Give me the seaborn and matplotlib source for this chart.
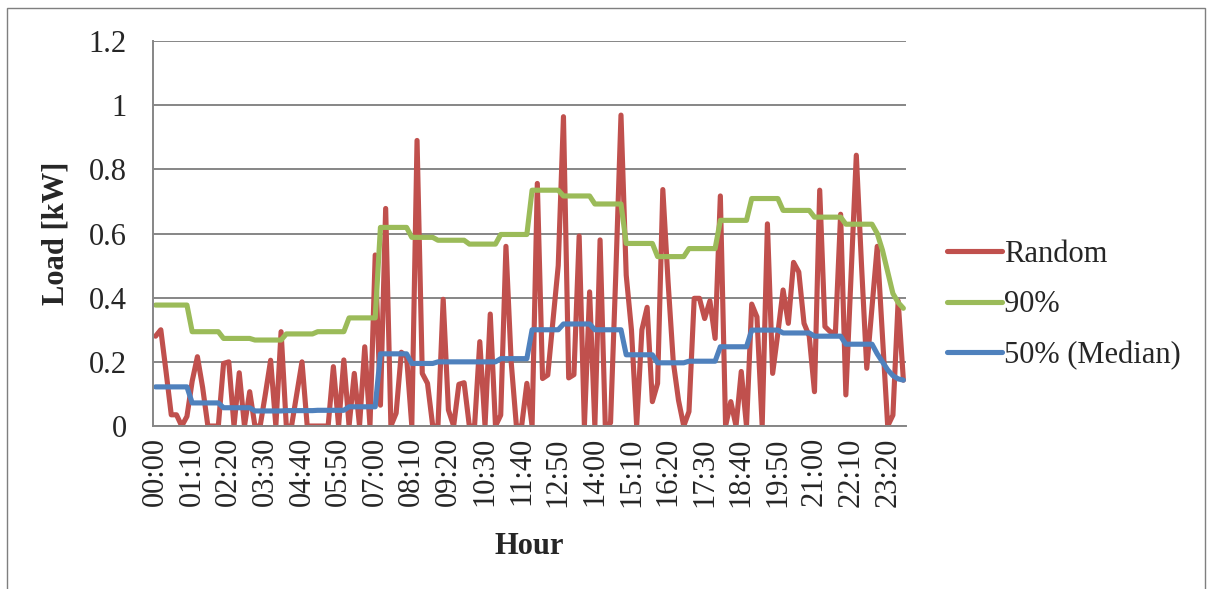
import pandas as pd
import matplotlib.pyplot as plt
import seaborn as sns
from matplotlib.patches import Rectangle
from matplotlib.ticker import FixedLocator

# 10-minute readings, 00:00 .. 23:50
times = [f"{h:02d}:{m:02d}" for h in range(24) for m in range(0, 60, 10)]
tick_labels = ["00:00", "01:10", "02:20", "03:30", "04:40", "05:50", "07:00",
               "08:10", "09:20", "10:30", "11:40", "12:50", "14:00", "15:10",
               "16:20", "17:30", "18:40", "19:50", "21:00", "22:10", "23:20"]

random_load = [
    0.28, 0.30, 0.17, 0.035, 0.035, 0.0, 0.03, 0.14, 0.216, 0.12, 0.0, 0.0,
    0.0, 0.195, 0.2, 0.0, 0.166, 0.0, 0.107, 0.0, 0.0, 0.1, 0.205, 0.0,
    0.294, 0.0, 0.0, 0.1, 0.2, 0.0, 0.0, 0.0, 0.0, 0.0, 0.185, 0.0,
    0.206, 0.0, 0.164, 0.0, 0.247, 0.0, 0.533, 0.065, 0.678, 0.0, 0.04, 0.23,
    0.216, 0.0, 0.89, 0.164, 0.133, 0.0, 0.0, 0.395, 0.05, 0.0, 0.13, 0.135,
    0.0, 0.0, 0.263, 0.0, 0.349, 0.0, 0.034, 0.56, 0.2, 0.0, 0.0, 0.133,
    0.0, 0.756, 0.148, 0.159, 0.33, 0.5, 0.964, 0.15, 0.16, 0.592, 0.0, 0.418,
    0.0, 0.58, 0.0, 0.01, 0.47, 0.969, 0.47, 0.3, 0.0, 0.3, 0.37, 0.076,
    0.133, 0.737, 0.45, 0.2, 0.08, 0.0, 0.045, 0.398, 0.398, 0.335, 0.39, 0.273,
    0.717, 0.0, 0.076, 0.0, 0.17, 0.0, 0.38, 0.34, 0.0, 0.63, 0.164, 0.29,
    0.424, 0.32, 0.51, 0.48, 0.32, 0.28, 0.107, 0.735, 0.31, 0.294, 0.29, 0.66,
    0.097, 0.47, 0.844, 0.5, 0.18, 0.37, 0.56, 0.28, 0.0, 0.034, 0.39, 0.143,
]

p90_load = [
    0.377, 0.377, 0.377, 0.377, 0.377, 0.377, 0.377, 0.294, 0.294, 0.294, 0.294, 0.294,
    0.294, 0.273, 0.273, 0.273, 0.273, 0.273, 0.273, 0.268, 0.268, 0.268, 0.268, 0.268,
    0.268, 0.287, 0.287, 0.287, 0.287, 0.287, 0.287, 0.294, 0.294, 0.294, 0.294, 0.294,
    0.294, 0.337, 0.337, 0.337, 0.337, 0.337, 0.337, 0.619, 0.619, 0.619, 0.619, 0.619,
    0.619, 0.588, 0.588, 0.588, 0.588, 0.588, 0.579, 0.579, 0.579, 0.579, 0.579, 0.579,
    0.567, 0.567, 0.567, 0.567, 0.567, 0.567, 0.597, 0.597, 0.597, 0.597, 0.597, 0.597,
    0.735, 0.735, 0.735, 0.735, 0.735, 0.735, 0.717, 0.717, 0.717, 0.717, 0.717, 0.717,
    0.692, 0.692, 0.692, 0.692, 0.692, 0.692, 0.569, 0.569, 0.569, 0.569, 0.569, 0.569,
    0.528, 0.528, 0.528, 0.528, 0.528, 0.528, 0.553, 0.553, 0.553, 0.553, 0.553, 0.553,
    0.641, 0.641, 0.641, 0.641, 0.641, 0.641, 0.709, 0.709, 0.709, 0.709, 0.709, 0.709,
    0.672, 0.672, 0.672, 0.672, 0.672, 0.672, 0.651, 0.651, 0.651, 0.651, 0.651, 0.651,
    0.629, 0.629, 0.629, 0.629, 0.629, 0.629, 0.60, 0.548, 0.48, 0.413, 0.385, 0.367,
]

median_load = [
    0.122, 0.122, 0.122, 0.122, 0.122, 0.122, 0.122, 0.072, 0.072, 0.072, 0.072, 0.072,
    0.072, 0.057, 0.057, 0.057, 0.057, 0.057, 0.057, 0.047, 0.047, 0.047, 0.047, 0.047,
    0.047, 0.048, 0.048, 0.048, 0.048, 0.048, 0.048, 0.049, 0.049, 0.049, 0.049, 0.049,
    0.049, 0.06, 0.06, 0.06, 0.06, 0.06, 0.06, 0.225, 0.225, 0.225, 0.225, 0.225,
    0.225, 0.195, 0.195, 0.195, 0.195, 0.195, 0.2, 0.2, 0.2, 0.2, 0.2, 0.2,
    0.2, 0.2, 0.2, 0.2, 0.2, 0.2, 0.21, 0.21, 0.21, 0.21, 0.21, 0.21,
    0.30, 0.30, 0.30, 0.30, 0.30, 0.30, 0.318, 0.318, 0.318, 0.318, 0.318, 0.318,
    0.30, 0.30, 0.30, 0.30, 0.30, 0.30, 0.222, 0.222, 0.222, 0.222, 0.222, 0.222,
    0.197, 0.197, 0.197, 0.197, 0.197, 0.197, 0.202, 0.202, 0.202, 0.202, 0.202, 0.202,
    0.247, 0.247, 0.247, 0.247, 0.247, 0.247, 0.299, 0.299, 0.299, 0.299, 0.299, 0.299,
    0.29, 0.29, 0.29, 0.29, 0.29, 0.29, 0.28, 0.28, 0.28, 0.28, 0.28, 0.28,
    0.255, 0.255, 0.255, 0.255, 0.255, 0.255, 0.225, 0.2, 0.175, 0.157, 0.147, 0.143,
]

df = pd.DataFrame({
    'Hour': times,
    'pos': range(len(times)),
    'Random': random_load,
    '90%': p90_load,
    '50% (Median)': median_load,
})

sns.set_style('white')
plt.rcParams['font.family'] = ['Liberation Serif', 'DejaVu Serif']

fig = plt.figure(figsize=(12.13, 5.89), dpi=100)
ax = fig.add_axes([0.1261, 0.2767, 0.6208, 0.6537])

colors = {'Random': '#C0504D', '90%': '#9BBB59', '50% (Median)': '#4F81BD'}
for name in ['Random', '90%', '50% (Median)']:
    sns.lineplot(x='pos', y=name, data=df, color=colors[name], linewidth=3.7,
                 label=name, ax=ax, solid_joinstyle='round', solid_capstyle='round')

grid_c = '#868686'
ax.set_xlim(-0.5, len(times) - 0.5)
ax.set_ylim(0, 1.2)
ax.set_yticks([0, 0.2, 0.4, 0.6, 0.8, 1.0, 1.2])
ax.set_yticklabels(['0', '0.2', '0.4', '0.6', '0.8', '1', '1.2'], fontsize=22)
ax.yaxis.grid(True, color=grid_c, linewidth=1.4)
ax.set_axisbelow(True)

label_pos = [times.index(t) for t in tick_labels]
ax.set_xticks(label_pos)
ax.set_xticklabels(tick_labels, rotation=90, fontsize=22)
ax.xaxis.set_minor_locator(FixedLocator([k - 0.5 for k in range(len(times) + 1)]))
ax.tick_params(axis='x', which='major', length=0, pad=8)
ax.tick_params(axis='x', which='minor', length=6, width=1.2, color=grid_c, direction='out')
ax.tick_params(axis='y', which='major', length=7, width=1.4, color=grid_c, direction='out', pad=12)

for side in ['top', 'right']:
    ax.spines[side].set_visible(False)
for side in ['left', 'bottom']:
    ax.spines[side].set_color(grid_c)
    ax.spines[side].set_linewidth(1.4)

ax.set_xlabel('Hour', fontsize=22, fontweight='bold', labelpad=18)
ax.set_ylabel('Load [kW]', fontsize=22, fontweight='bold', labelpad=13)

ax.legend(loc='center left', bbox_to_anchor=(0.771, 0.482), bbox_transform=fig.transFigure,
          frameon=False, fontsize=22, handlelength=1.8, handletextpad=0.06,
          labelspacing=0.7, borderaxespad=0)

fig.patches.append(Rectangle((7 / 1213, -0.05), 1198 / 1213, 1.05 - 8 / 589,
                             transform=fig.transFigure, fill=False,
                             edgecolor='#7f7f7f', linewidth=1.0))

fig.savefig('out.png', dpi=100)
